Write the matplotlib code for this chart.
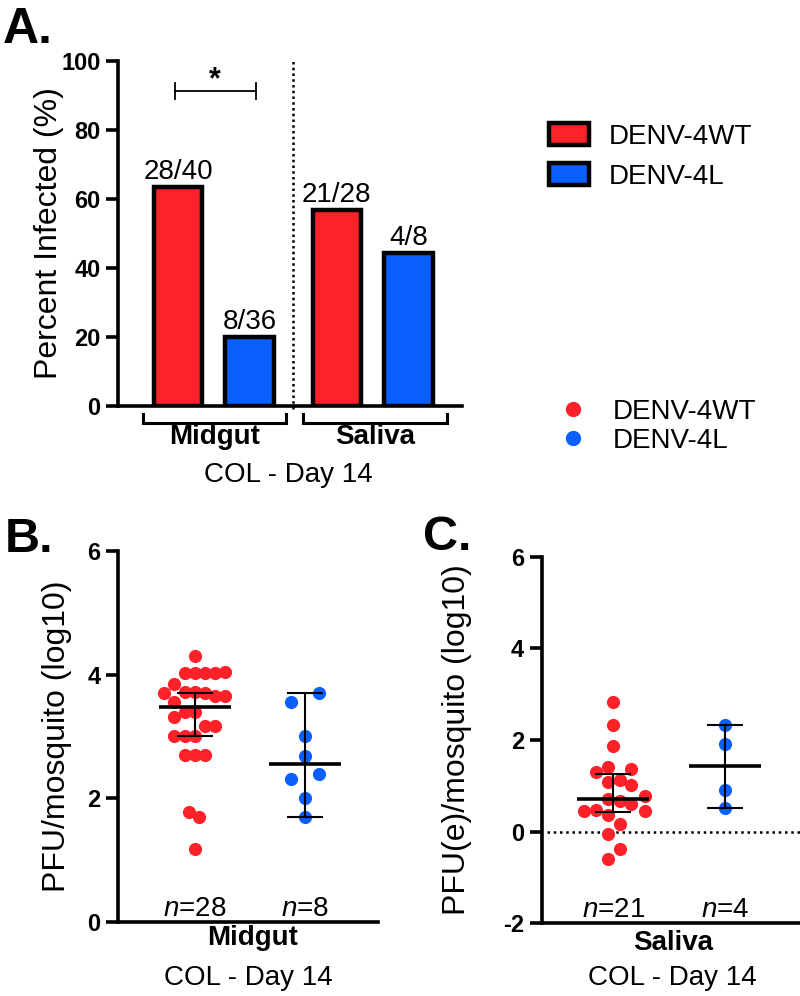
import matplotlib.pyplot as plt
from matplotlib.patches import Patch
from matplotlib.lines import Line2D

plt.rcParams['font.family'] = ['Liberation Sans', 'DejaVu Sans']
plt.rcParams['mathtext.fontset'] = 'custom'
plt.rcParams['mathtext.it'] = 'Liberation Sans:italic'
plt.rcParams['mathtext.rm'] = 'Liberation Sans'
plt.rcParams['axes.unicode_minus'] = False

RED = '#fe2129'
BLUE = '#0b5fff'
LEGEND_LABELS = ['DENV-4WT', 'DENV-4L']

# --- panel A: percent infected
tissues = ['Midgut', 'Saliva']
pct_wt = [63.6, 56.8]
pct_l = [20.0, 44.4]
ratio_wt = ['28/40', '21/28']
ratio_l = ['8/36', '4/8']

# --- panel B: midgut titers (log10 PFU)
mid_wt = [4.30, 4.03, 4.03, 4.03, 4.03, 4.05, 3.85, 3.70, 3.72, 3.72, 3.70, 3.66, 3.66, 3.56,
          3.39, 3.39, 3.31, 3.17, 3.17, 3.01, 3.01, 3.01, 2.70, 2.70, 2.70, 1.78, 1.69, 1.18]
mid_wt_jit = [0, -0.09, 0, 0.09, 0.18, 0.27, -0.19, -0.28, -0.09, 0, 0.09, 0.18, 0.27, -0.19,
              -0.09, 0, -0.19, 0.09, 0.18, -0.19, -0.09, 0, -0.09, 0, 0.09, -0.055, 0.035, 0]
mid_l = [3.70, 3.55, 3.00, 2.69, 2.40, 2.31, 2.00, 1.70]
mid_l_jit = [0.13, -0.13, 0, 0, 0.13, -0.13, 0, 0]
mid_stats = [(3.47, 3.00, 3.70), (2.55, 1.70, 3.70)]   # median, low, high
mid_n = ['28', '8']

# --- panel C: saliva titers (log10 PFU(e))
sal_wt = [2.83, 2.32, 1.88, 1.41, 1.30, 1.36, 1.08, 1.12, 1.01, 0.72, 0.68, 0.61, 0.77, 0.45,
          0.48, 0.36, 0.45, 0.17, -0.06, -0.37, -0.59]
sal_wt_jit = [0, 0, 0, -0.045, -0.15, 0.16, -0.045, 0.06, 0.16, -0.045, 0.06, 0.16, 0.28, -0.26,
              -0.15, -0.045, 0.28, 0.06, -0.045, 0.06, -0.045]
sal_l = [2.32, 1.92, 0.92, 0.52]
sal_l_jit = [0, 0, 0, 0]
sal_stats = [(0.705, 0.43, 1.26), (1.43, 0.52, 2.32)]
sal_n = ['21', '4']

fig = plt.figure(figsize=(8, 9.96), dpi=100)


def style_axis(ax):
    for s in ['top', 'right']:
        ax.spines[s].set_visible(False)
    for s in ['left', 'bottom']:
        ax.spines[s].set_linewidth(2.6)
    ax.tick_params(axis='y', length=8.5, width=2.6, labelsize=17, pad=4)
    ax.tick_params(axis='x', length=0, labelbottom=False)
    for lbl in ax.get_yticklabels():
        lbl.set_fontweight('bold')


# ---------------- A ----------------
axA = fig.add_axes([0.1475, 0.5924, 0.43, 0.3464])
x_wt = [0.84, 3.06]
x_l = [1.84, 4.06]
axA.bar(x_wt, pct_wt, width=0.68, color=RED, edgecolor='black', linewidth=3.2, zorder=3)
axA.bar(x_l, pct_l, width=0.68, color=BLUE, edgecolor='black', linewidth=3.2, zorder=3)
for x, v, t in zip(x_wt + x_l, pct_wt + pct_l, ratio_wt + ratio_l):
    axA.text(x, v + 2.3, t, ha='center', va='baseline', fontsize=20)
axA.set_xlim(0, 4.81)
axA.set_ylim(0, 100)
axA.set_yticks(range(0, 101, 20))
style_axis(axA)
axA.set_ylabel('Percent Infected (%)', fontsize=23)
axA.yaxis.set_label_coords(-0.157, 0.5)

# separator between tissues
axA.plot([2.45, 2.45], [-1, 100], color='black', lw=1.8, ls=(0, (1, 1.3)), clip_on=False)

# significance bracket
axA.plot([0.80, 1.93], [91.3, 91.3], color='black', lw=1.3, clip_on=False)
for xx in [0.80, 1.93]:
    axA.plot([xx, xx], [88.9, 93.6], color='black', lw=1.3, clip_on=False)
axA.text(1.36, 90.2, '*', ha='center', va='bottom', fontsize=22, fontweight='bold')

# group brackets below the axis
for (x0, x1), name in zip([(0.35, 2.35), (2.59, 4.60)], tissues):
    axA.plot([x0, x0, x1, x1], [-2.2, -5.0, -5.0, -2.2], color='black', lw=2.2,
             clip_on=False, solid_joinstyle='miter')
    axA.text((x0 + x1) / 2, -11.0, name, ha='center', va='baseline',
             fontsize=20, fontweight='bold')
axA.text(2.38, -22.0, 'COL - Day 14', ha='center', va='baseline', fontsize=20)

fig.text(0.004, 1 - 43 / 996, 'A.', fontsize=36, fontweight='bold', va='baseline')

fig.legend(handles=[Patch(facecolor=RED, edgecolor='black', linewidth=3.2),
                    Patch(facecolor=BLUE, edgecolor='black', linewidth=3.2)],
           labels=LEGEND_LABELS, loc='upper left', bbox_to_anchor=(549 / 800, 1 - 123 / 996),
           frameon=False, fontsize=20, handlelength=1.45, handleheight=0.85,
           handletextpad=0.7, labelspacing=0.48, borderpad=0, borderaxespad=0)
fig.legend(handles=[Line2D([], [], marker='o', ls='', color=RED, markersize=10),
                    Line2D([], [], marker='o', ls='', color=BLUE, markersize=10)],
           labels=LEGEND_LABELS, loc='upper left', bbox_to_anchor=(549 / 800, 1 - 399 / 996),
           frameon=False, fontsize=20, handlelength=1.7, handletextpad=0.6,
           labelspacing=0.1, borderpad=0, borderaxespad=0)


# ---------------- B / C ----------------
def scatter_panel(ax, wt, wt_jit, l, l_jit, stats, half):
    ax.scatter(wt_jit, wt, s=90, color=RED, lw=0, zorder=2)
    ax.scatter([1 + j for j in l_jit], l, s=90, color=BLUE, lw=0, zorder=2)
    for x, (med, lo, hi) in zip([0, 1], stats):
        ax.errorbar(x, med, yerr=[[med - lo], [hi - med]], fmt='none',
                    ecolor='black', elinewidth=1.5, capsize=13, capthick=1.5, zorder=3)
        ax.hlines(med, x - half, x + half, color='black', lw=2.6, zorder=4)
    style_axis(ax)


axB = fig.add_axes([0.1475, 0.0743, 0.325, 0.3725])
scatter_panel(axB, mid_wt, mid_wt_jit, mid_l, mid_l_jit, mid_stats, 0.33)
axB.set_xlim(-0.70, 1.664)
axB.set_ylim(0, 6)
axB.set_yticks([0, 2, 4, 6])
for lbl in axB.get_yticklabels():
    lbl.set_fontweight('bold')
axB.set_ylabel('PFU/mosquito (log10)', fontsize=23)
axB.yaxis.set_label_coords(-0.177, 0.5)
for x, n in zip([0, 1], mid_n):
    axB.text(x, 0.09, r'$\it{n}$=' + n, ha='center', va='baseline', fontsize=20)
axB.text(0.517, -0.062, 'Midgut', transform=axB.transAxes, ha='center', va='baseline',
         fontsize=20, fontweight='bold')
axB.text(0.5, -0.170, 'COL - Day 14', transform=axB.transAxes, ha='center', va='baseline',
         fontsize=20)
fig.text(0.006, 1 - 552 / 996, 'B.', fontsize=35, fontweight='bold', va='baseline')

axC = fig.add_axes([0.677, 0.073, 0.323, 0.368])
scatter_panel(axC, sal_wt, sal_wt_jit, sal_l, sal_l_jit, sal_stats, 0.32)
axC.set_xlim(-0.641, 1.671)
axC.set_ylim(-2, 6)
axC.set_yticks([-2, 0, 2, 4, 6])
for lbl in axC.get_yticklabels():
    lbl.set_fontweight('bold')
axC.axhline(0, xmin=0.02, color='black', lw=1.8, ls=(0, (1, 1.5)), zorder=1)
axC.set_ylabel('PFU(e)/mosquito (log10)', fontsize=23)
axC.yaxis.set_label_coords(-0.27, 0.5)
for x, n in zip([0, 1], sal_n):
    axC.text(x, -1.86, r'$\it{n}$=' + n, ha='center', va='baseline', fontsize=20)
axC.text(0.508, -0.073, 'Saliva', transform=axC.transAxes, ha='center', va='baseline',
         fontsize=20, fontweight='bold')
axC.text(0.508, -0.167, 'COL - Day 14', transform=axC.transAxes, ha='center', va='baseline',
         fontsize=20)
fig.text(423 / 800, 1 - 550 / 996, 'C.', fontsize=35, fontweight='bold', va='baseline')

fig.savefig('out.png', dpi=100)
